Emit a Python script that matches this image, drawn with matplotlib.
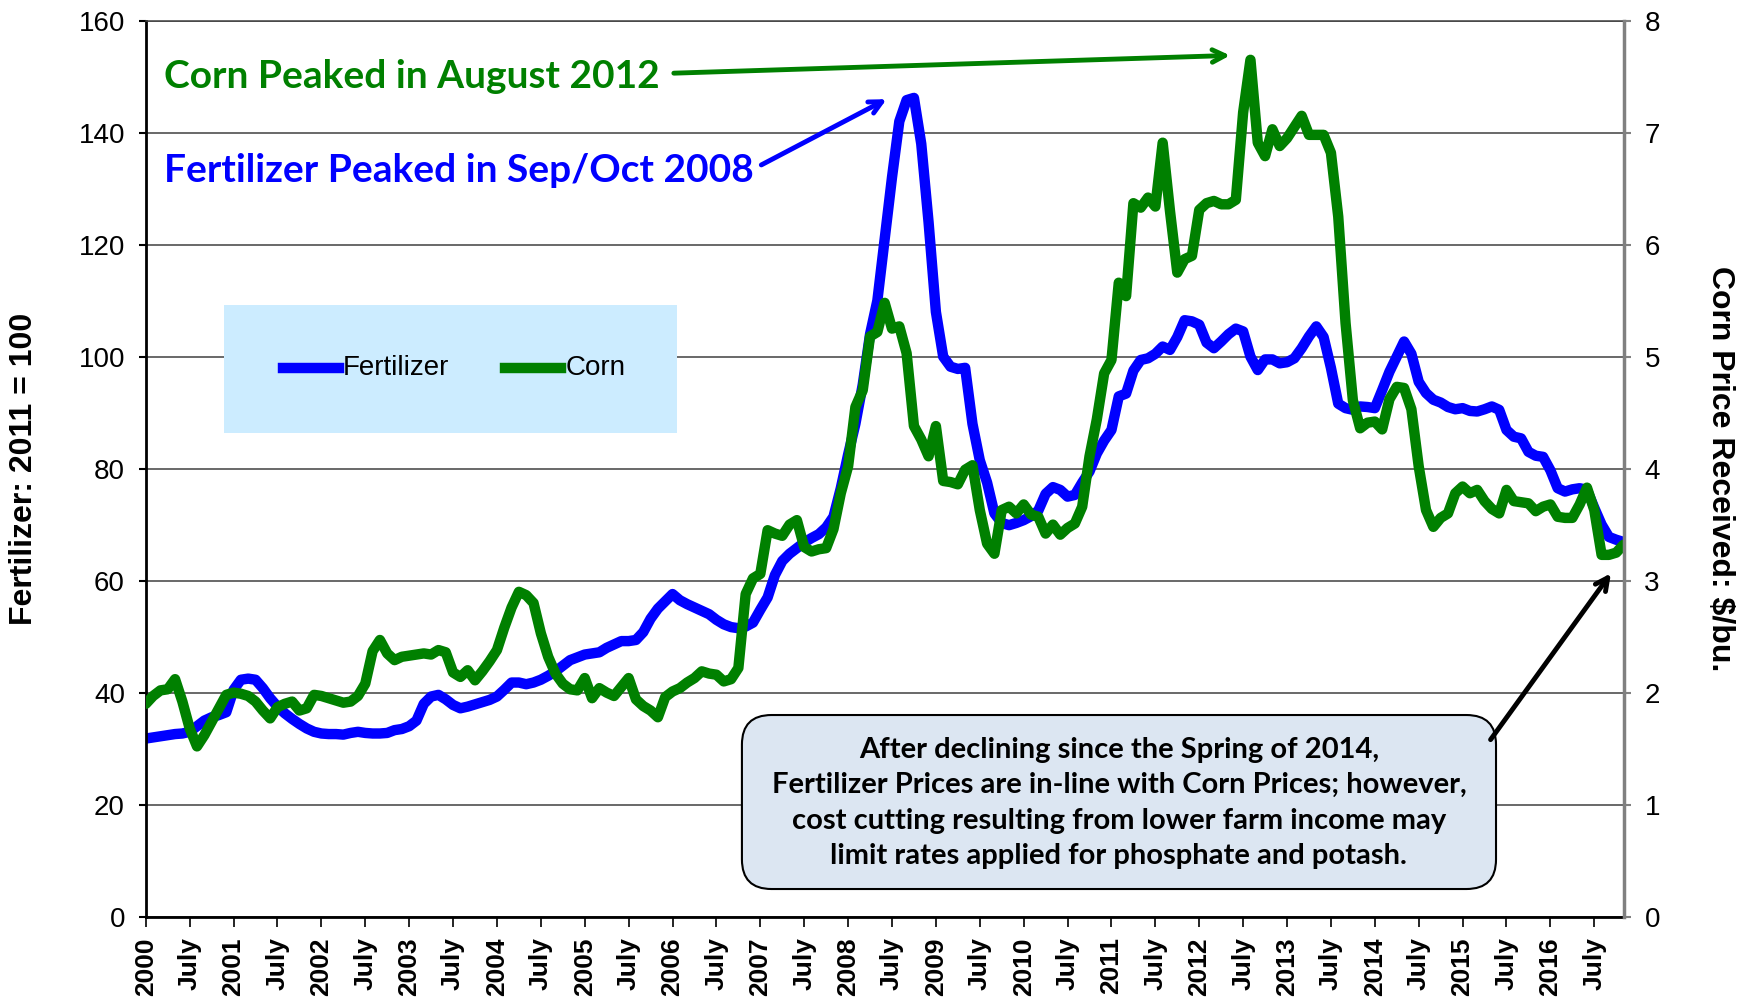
import matplotlib
matplotlib.use('Agg')
import matplotlib.pyplot as plt
from matplotlib.patches import Rectangle, FancyBboxPatch
from matplotlib.lines import Line2D

# fertilizer price index, 2011 = 100, monthly Jan 2000 - Nov 2016
fert = [
    31.8, 32.0, 32.2, 32.4, 32.6, 32.7, 33.0, 34.0, 35.0, 35.6, 36.0, 36.5,
    40.5, 42.3, 42.5, 42.3, 40.8, 39.0, 37.5, 36.3, 35.3, 34.4, 33.6, 33.0,
    32.7, 32.6, 32.6, 32.5, 32.8, 33.0, 32.8, 32.7, 32.7, 32.8, 33.3, 33.5,
    34.0, 35.0, 38.0, 39.3, 39.6, 38.8, 37.8, 37.2, 37.5, 37.9, 38.3, 38.7,
    39.3, 40.5, 41.8, 41.8, 41.5, 41.8, 42.3, 43.0, 43.8, 44.8, 45.8, 46.3,
    46.8, 47.0, 47.2, 48.0, 48.6, 49.2, 49.2, 49.4, 50.8, 53.2, 55.0, 56.3,
    57.6, 56.5, 55.8, 55.2, 54.6, 54.0, 53.0, 52.2, 51.7, 51.5, 51.8, 52.5,
    54.8, 57.0, 61.0, 63.5, 64.8, 65.8, 66.8, 67.6, 68.3, 69.5, 71.4, 76.5,
    82.5, 88.0, 95.0, 104.0, 110.0, 121.0, 132.0, 142.0, 145.8, 146.2, 138.0, 124.0,
    108.0, 100.0, 98.2, 97.8, 98.0, 88.0, 81.5, 77.5, 72.0, 70.3, 69.9, 70.3,
    70.8, 71.5, 72.5, 75.5, 76.7, 76.2, 75.0, 75.3, 77.5, 79.5, 82.7, 85.0,
    86.9, 92.9, 93.4, 97.5, 99.4, 99.7, 100.5, 101.8, 101.2, 103.5, 106.5, 106.3,
    105.7, 102.5, 101.5, 102.7, 104.0, 105.0, 104.5, 100.0, 97.6, 99.5, 99.5, 98.8,
    99.0, 99.7, 101.5, 103.6, 105.4, 103.5, 98.0, 91.6, 90.8, 90.5, 91.1, 91.0,
    90.8, 94.0, 97.3, 100.0, 102.7, 100.5, 95.5, 93.5, 92.3, 91.8, 91.0, 90.6,
    90.8, 90.3, 90.2, 90.6, 91.1, 90.5, 86.9, 85.7, 85.4, 83.0, 82.3, 82.1,
    79.7, 76.5, 75.9, 76.3, 76.5, 76.2, 73.0, 70.0, 67.8, 67.3, 66.9,
]

# corn price received, $/bu
corn = [
    1.90, 1.97, 2.02, 2.03, 2.12, 1.92, 1.68, 1.52, 1.62, 1.74, 1.86, 1.98,
    2.00, 1.99, 1.97, 1.92, 1.84, 1.77, 1.87, 1.90, 1.92, 1.84, 1.86, 1.98,
    1.97, 1.95, 1.93, 1.91, 1.92, 1.97, 2.08, 2.37, 2.47, 2.35, 2.29, 2.32,
    2.33, 2.34, 2.35, 2.34, 2.38, 2.36, 2.18, 2.14, 2.20, 2.11, 2.19, 2.28,
    2.38, 2.58, 2.76, 2.90, 2.87, 2.80, 2.53, 2.32, 2.17, 2.08, 2.03, 2.02,
    2.13, 1.95, 2.04, 2.00, 1.97, 2.05, 2.13, 1.94, 1.88, 1.84, 1.78, 1.96,
    2.01, 2.04, 2.09, 2.13, 2.19, 2.17, 2.16, 2.10, 2.12, 2.22, 2.88, 3.02,
    3.06, 3.45, 3.42, 3.40, 3.50, 3.54, 3.30, 3.26, 3.28, 3.29, 3.46, 3.78,
    4.02, 4.55, 4.70, 5.18, 5.22, 5.48, 5.25, 5.27, 5.03, 4.38, 4.26, 4.11,
    4.38, 3.89, 3.88, 3.86, 3.99, 4.03, 3.63, 3.33, 3.24, 3.63, 3.66, 3.60,
    3.68, 3.59, 3.57, 3.42, 3.50, 3.41, 3.47, 3.51, 3.66, 4.11, 4.44, 4.85,
    4.97, 5.66, 5.54, 6.37, 6.33, 6.42, 6.34, 6.91, 6.30, 5.75, 5.87, 5.90,
    6.31, 6.37, 6.39, 6.36, 6.36, 6.40, 7.18, 7.65, 6.91, 6.79, 7.03, 6.88,
    6.95, 7.05, 7.15, 6.98, 6.98, 6.98, 6.82, 6.25, 5.30, 4.61, 4.36, 4.41,
    4.42, 4.35, 4.62, 4.73, 4.72, 4.53, 4.02, 3.63, 3.48, 3.56, 3.60, 3.78,
    3.84, 3.78, 3.81, 3.71, 3.64, 3.60, 3.81, 3.71, 3.70, 3.69, 3.62, 3.66,
    3.68, 3.57, 3.56, 3.56, 3.68, 3.83, 3.63, 3.23, 3.23, 3.25, 3.32,
]

months = list(range(len(fert)))
tick_pos = list(range(0, 199, 6))
tick_labels = [str(2000 + p // 12) if p % 12 == 0 else 'July' for p in tick_pos]

left_ticks = [0, 20, 40, 60, 80, 100, 120, 140, 160]
right_ticks = [0, 1, 2, 3, 4, 5, 6, 7, 8]

note = ("After declining since the Spring of 2014,\n"
        "Fertilizer Prices are in-line with Corn Prices; however,\n"
        "cost cutting resulting from lower farm income may\n"
        "limit rates applied for phosphate and potash.")

BLUE = '#0000FF'
GREEN = '#008000'
ANNO_FONT = ['Lato', 'DejaVu Sans']
LW = 7.5

plt.rcParams['font.family'] = ['Liberation Sans', 'DejaVu Sans']

fig = plt.figure(figsize=(17.42, 10.01), dpi=100)
ax = fig.add_axes([0.0837, 0.0843, 0.8483, 0.8951])
ax2 = ax.twinx()

ax.plot(months, fert, color=BLUE, lw=LW, solid_joinstyle='round', solid_capstyle='round')
ax2.plot(months, corn, color=GREEN, lw=LW, solid_joinstyle='round', solid_capstyle='round')

ax.set_xlim(0, len(months) - 1)
ax.set_ylim(0, 160)
ax2.set_ylim(0, 8)
ax.set_yticks(left_ticks)
ax2.set_yticks(right_ticks)
ax.set_xticks(tick_pos)
ax.set_xticklabels(tick_labels, rotation=90, fontweight='bold', fontsize=19)

ax.yaxis.grid(True, color='#404040', lw=1.1)
ax.set_axisbelow(True)

ax.tick_params(axis='y', direction='out', length=5, width=1.5, pad=10, labelsize=20)
ax2.tick_params(axis='y', direction='out', length=5, width=1.5, pad=10, labelsize=20,
                color='#808080')
ax.tick_params(axis='x', direction='out', length=7, width=1.2, pad=8)

for s in ['left', 'bottom']:
    ax.spines[s].set_linewidth(2)
    ax.spines[s].set_color('black')
ax.spines['right'].set_visible(False)
ax.spines['top'].set_color('#404040')
ax.spines['top'].set_linewidth(1.1)
ax2.spines['left'].set_visible(False)
ax2.spines['bottom'].set_visible(False)
ax2.spines['top'].set_visible(False)
ax2.spines['right'].set_color('#808080')
ax2.spines['right'].set_linewidth(2.5)

ax.set_ylabel('Fertilizer: 2011 = 100', fontsize=23, fontweight='bold', va='center')
ax.yaxis.set_label_coords(-0.0822, 0.5)
ax2.set_ylabel('Corn Price Received: $/bu.', fontsize=23, fontweight='bold',
               rotation=270, va='center')
ax2.yaxis.set_label_coords(1.0652, 0.5)

# legend panel
ax.add_patch(Rectangle((0.0529, 0.5397), 0.3066, 0.1429, transform=ax.transAxes,
                       facecolor='#CCECFF', edgecolor='none', zorder=1))
ax2.add_line(Line2D([0.0930, 0.1307], [0.6123, 0.6123], transform=ax.transAxes,
                    color=BLUE, lw=LW))
ax2.text(0.1336, 0.6123, 'Fertilizer', transform=ax.transAxes, fontsize=20,
         ha='left', va='center')
ax2.add_line(Line2D([0.2434, 0.2810], [0.6123, 0.6123], transform=ax.transAxes,
                    color=GREEN, lw=LW))
ax2.text(0.2840, 0.6123, 'Corn', transform=ax.transAxes, fontsize=20,
         ha='left', va='center')

# annotations
ax2.text(2.5, 7.50, 'Corn Peaked in August 2012', color=GREEN, fontsize=28,
         fontweight='bold', family=ANNO_FONT, ha='left', va='center')
ax2.annotate('', xy=(148.6, 7.69), xytext=(71.8, 7.53),
             arrowprops=dict(arrowstyle='->,head_length=0.9,head_width=0.45',
                             color=GREEN, lw=3.5))
ax2.text(2.5, 6.665, 'Fertilizer Peaked in Sep/Oct 2008', color=BLUE, fontsize=28,
         fontweight='bold', family=ANNO_FONT, ha='left', va='center')
ax2.annotate('', xy=(101.6, 7.31), xytext=(83.8, 6.70),
             arrowprops=dict(arrowstyle='->,head_length=0.9,head_width=0.45',
                             color=BLUE, lw=3.5))

ax2.add_patch(FancyBboxPatch((0.4034, 0.0308), 0.5103, 0.1942, transform=ax.transAxes,
                             boxstyle='round,pad=0,rounding_size=0.02',
                             mutation_aspect=1.649, facecolor='#DCE6F2',
                             edgecolor='black', lw=1.5))
ax2.text(0.6585, 0.127, note, transform=ax.transAxes, fontsize=21, fontweight='bold',
         family=ANNO_FONT, ha='center', va='center', linespacing=1.45)
ax2.annotate('', xy=(200.5, 3.085), xytext=(183.6, 1.56),
             arrowprops=dict(arrowstyle='->,head_length=0.9,head_width=0.45',
                             color='black', lw=3.5))

fig.savefig('out.png', dpi=100)
